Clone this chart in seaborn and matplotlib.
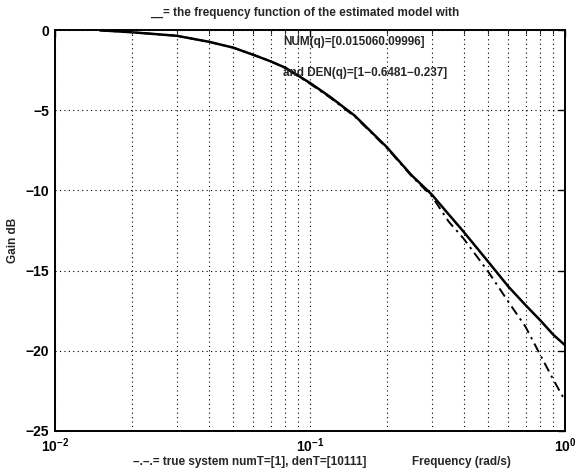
import numpy as np
import pandas as pd
import matplotlib
matplotlib.use("Agg")
import matplotlib.pyplot as plt
import seaborn as sns
from matplotlib.ticker import LogLocator, FixedLocator, NullFormatter, FixedFormatter

# Frequency grid (rad/s) and gains (dB)
freq = [0.015, 0.02, 0.03, 0.04, 0.05, 0.06, 0.07, 0.08, 0.1, 0.12, 0.15,
        0.2, 0.25, 0.3, 0.35, 0.4, 0.5, 0.6, 0.7, 0.8, 0.9, 1.0]
gain_est = [-0.02, -0.14, -0.36, -0.73, -1.10, -1.55, -1.95, -2.35, -3.30, -4.17, -5.35,
            -7.30, -9.05, -10.25, -11.50, -12.57, -14.45, -16.00, -17.15, -18.10, -19.00, -19.65]
gain_true = [-0.02, -0.14, -0.36, -0.73, -1.10, -1.55, -1.95, -2.37, -3.35, -4.22, -5.40,
             -7.35, -9.10, -10.35, -11.95, -13.00, -15.07, -16.95, -18.50, -20.26, -21.80, -23.10]

x_ticks = [0.01, 0.1, 1.0]
x_tick_labels = ["$10^{-2}$", "$10^{-1}$", "$10^{0}$"]
y_ticks = [-25, -20, -15, -10, -5, 0]

df_est = pd.DataFrame({"freq": freq, "gain": gain_est})
df_true = pd.DataFrame({"freq": freq, "gain": gain_true})

sns.set_style("white")
plt.rcParams['font.family'] = ['Liberation Sans', 'DejaVu Sans']
plt.rcParams['mathtext.fontset'] = 'custom'
plt.rcParams['mathtext.rm'] = 'Liberation Sans'
plt.rcParams['mathtext.it'] = 'Liberation Sans'
plt.rcParams['mathtext.bf'] = 'Liberation Sans:bold'
plt.rcParams['mathtext.default'] = 'bf'

W, H = 584, 472
fig = plt.figure(figsize=(W / 100, H / 100), dpi=100)
fig.patch.set_facecolor("white")
ax = fig.add_axes([55 / W, 1 - 431 / H, 510 / W, 401 / H])

sns.lineplot(data=df_est, x="freq", y="gain", ax=ax, color="black", lw=1.8)
sns.lineplot(data=df_true, x="freq", y="gain", ax=ax, color="black", lw=1.4,
             linestyle=(0, (5, 2.5, 1.2, 2.5)))

ax.set_xscale("log")
ax.set_xlim(0.01, 1.0)
ax.set_ylim(-25, 0)
ax.xaxis.set_major_locator(FixedLocator(x_ticks))
ax.xaxis.set_major_formatter(FixedFormatter(x_tick_labels))
ax.xaxis.set_minor_locator(LogLocator(base=10, subs=np.arange(2, 10)))
ax.xaxis.set_minor_formatter(NullFormatter())
ax.yaxis.set_major_locator(FixedLocator(y_ticks))

ax.grid(True, which="major", axis="both", color="black", linestyle=(0, (1, 3)), lw=0.8)
ax.grid(True, which="minor", axis="x", color="black", linestyle=(0, (1, 3)), lw=0.8)
ax.set_axisbelow(False)

for s in ax.spines.values():
    s.set_visible(True)
    s.set_color("black")
    s.set_linewidth(1.4)

ax.tick_params(which="major", direction="in", length=5, width=1.0, top=True, right=True,
               labelsize=10, pad=4, colors="black")
ax.tick_params(which="minor", direction="in", length=3, width=0.8, top=True, right=True)
for lab in ax.get_yticklabels() + ax.get_xticklabels():
    lab.set_fontweight("bold")

ax.set_xlabel("")
ax.set_ylabel("")

ax.text(0.0784, -0.75, "NUM(q)=[0.015060.09996]", fontsize=8.5, fontweight="bold",
        va="center", ha="left")
ax.text(0.0784, -2.68, "and DEN(q)=[1\u22120.6481\u22120.237]", fontsize=8.5, fontweight="bold",
        va="center", ha="left")

fig.text(305 / W, 1 - 13 / H, "__= the frequency function of the estimated model with",
         ha="center", va="center", fontsize=8.5, fontweight="bold")
fig.text(133 / W, 1 - 462 / H, "\u2013.\u2013.= true system numT=[1], denT=[10111]",
         ha="left", va="center", fontsize=8.5, fontweight="bold")
fig.text(412 / W, 1 - 462 / H, "Frequency (rad/s)",
         ha="left", va="center", fontsize=8.5, fontweight="bold")
fig.text(13 / W, 1 - 240 / H, "Gain dB", rotation=90,
         ha="center", va="center", fontsize=8.5, fontweight="bold")

fig.savefig("out.png", dpi=100, facecolor="white")
